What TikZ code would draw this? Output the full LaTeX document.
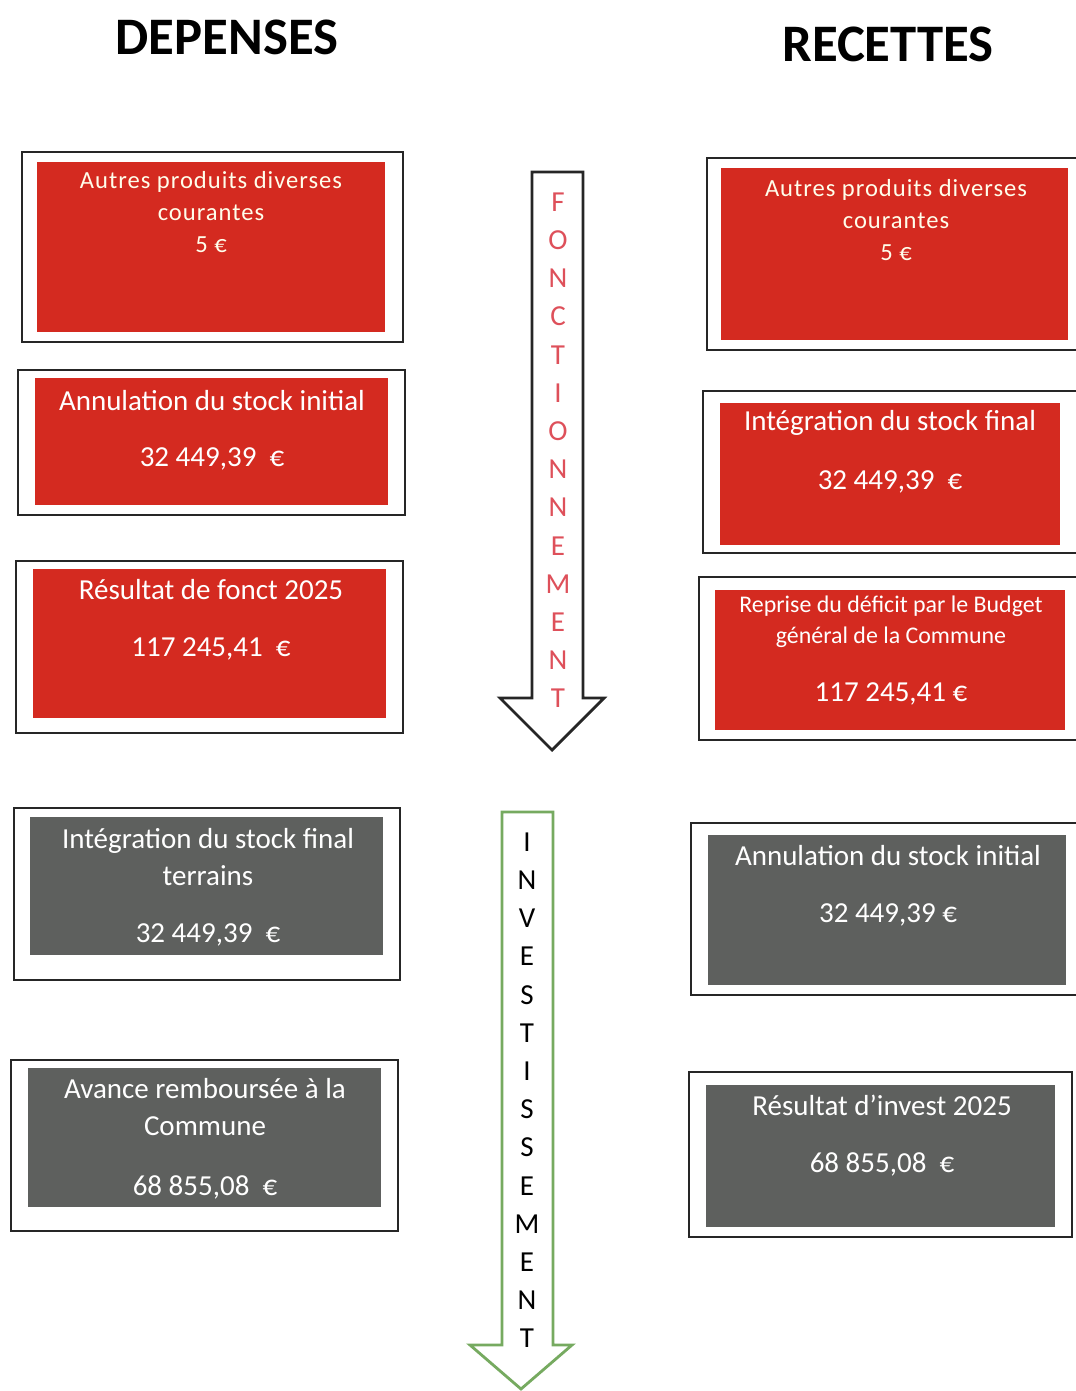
\documentclass[tikz,border=0pt]{standalone}
\usepackage{fontspec}
\setmainfont{Carlito}
\newfontfamily\espace[LetterSpace=4]{Carlito}

\definecolor{rouge}{RGB}{212,42,32}
\definecolor{gris}{RGB}{94,96,94}
\definecolor{vert}{RGB}{118,170,96}
\definecolor{rose}{RGB}{222,80,90}

\tikzset{
  cadre/.style={draw=black!85, line width=1.1pt},
  titre/.style={font=\bfseries\fontsize{30}{36}\selectfont},
  libelle/.style={text=white, align=center, inner sep=0pt, font=\fontsize{16.5}{21.5}\selectfont},
  petit/.style={text=white!92!yellow, align=center, inner sep=0pt, font=\espace\fontsize{14}{18.1}\selectfont},
  lettre/.style={inner sep=0pt, font=\fontsize{16.5}{20}\selectfont},
}

\begin{document}
\begin{tikzpicture}[x=0.02cm, y=-0.02cm]
  \useasboundingbox (0,0) rectangle (1075,1391);
  \fill[white] (0,0) rectangle (1075,1391);

  % titres
  \node[titre] (depenses) at (227,37) {DEPENSES};
  \node[titre] (recettes) at (888,44) {RECETTES};

  % depenses de fonctionnement
  \draw[cadre] (22,152) rectangle (403,342);
  \fill[rouge] (37,162) rectangle (385,332);
  \node[petit] (dep1) at (211,212) {Autres produits diverses\\courantes\\5 €};

  \draw[cadre] (18,370) rectangle (405,515);
  \fill[rouge] (35,378) rectangle (388,505);
  \node[libelle] (dep2) at (212,401) {Annulation du stock initial};
  \node[libelle] (dep2m) at (212,459) {32 449,39~~€};

  \draw[cadre] (16,561) rectangle (403,733);
  \fill[rouge] (33,569) rectangle (386,718);
  \node[libelle] (dep3) at (211,590) {Résultat de fonct 2025};
  \node[libelle] (dep3m) at (211,649) {117 245,41~~€};

  % depenses d'investissement
  \draw[cadre] (14,808) rectangle (400,980);
  \fill[gris] (30,817) rectangle (383,955);
  \node[libelle] (dep4) at (208,857) {Intégration du stock final\\terrains};
  \node[libelle] (dep4m) at (208,935) {32 449,39~~€};

  \draw[cadre] (11,1060) rectangle (398,1231);
  \fill[gris] (28,1068) rectangle (381,1207);
  \node[libelle] (dep5) at (205,1107) {Avance remboursée à la\\Commune};
  \node[libelle] (dep5m) at (205,1187) {68 855,08~~€};

  % recettes de fonctionnement
  \draw[cadre] (707,158) rectangle (1090,350);
  \fill[rouge] (721,168) rectangle (1068,340);
  \node[petit] (rec1) at (896,220) {Autres produits diverses\\courantes\\5 €};

  \draw[cadre] (703,391) rectangle (1090,553);
  \fill[rouge] (720,403) rectangle (1060,545);
  \node[libelle] (rec2) at (890,423) {Intégration du stock final};
  \node[libelle] (rec2m) at (890,482) {32 449,39~~€};

  \draw[cadre] (699,577) rectangle (1090,740);
  \fill[rouge] (715,590) rectangle (1065,730);
  \node[libelle, font=\fontsize{13.6}{17.6}\selectfont] (rec3) at (891,622) {Reprise du déficit par le Budget\\général de la Commune};
  \node[libelle] (rec3m) at (891,694) {117 245,41 €};

  % recettes d'investissement
  \draw[cadre] (691,823) rectangle (1090,995);
  \fill[gris] (708,835) rectangle (1066,985);
  \node[libelle] (rec4) at (888,856) {Annulation du stock initial};
  \node[libelle] (rec4m) at (888,915) {32 449,39 €};

  \draw[cadre] (689,1072) rectangle (1072,1237);
  \fill[gris] (706,1085) rectangle (1055,1227);
  \node[libelle] (rec5) at (882,1105) {Résultat d’invest 2025};
  \node[libelle] (rec5m) at (882,1164) {68 855,08~~€};

  % fleches
  \draw[line width=1.6pt, black!85, line join=miter]
    (532,172) -- (583,172) -- (583,698) -- (604,698) -- (552,750) -- (500,698) -- (532,698) -- cycle;
  \foreach \l [count=\i] in {F,O,N,C,T,I,O,N,N,E,M,E,N,T}
    \node[lettre, text=rose] (fonc\i) at (558,{163.8+38.2*\i}) {\l};

  \draw[line width=1.6pt, vert, line join=miter]
    (502,812) -- (553,812) -- (553,1345) -- (572,1345) -- (521,1389) -- (470,1345) -- (502,1345) -- cycle;
  \foreach \l [count=\i] in {I,N,V,E,S,T,I,S,S,E,M,E,N,T}
    \node[lettre] (inv\i) at (527,{803.8+38.2*\i}) {\l};
\end{tikzpicture}
\end{document}
